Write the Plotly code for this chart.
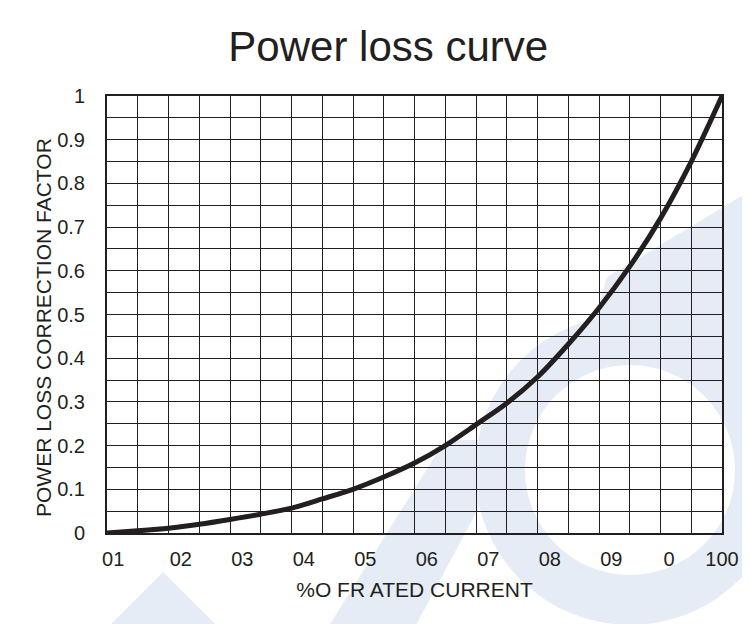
import plotly.graph_objects as go

# % of rated current vs power loss correction factor
current = [0, 5, 10, 15, 20, 25, 30, 35, 40, 45, 50,
           55, 60, 65, 70, 75, 80, 85, 90, 95, 100]
factor = [0, 0.005, 0.011, 0.02, 0.031, 0.043, 0.057, 0.078, 0.1, 0.128, 0.16,
          0.2, 0.248, 0.297, 0.357, 0.432, 0.515, 0.61, 0.72, 0.85, 1.0]

# printed tick labels (garbled as in the original artwork)
x_ticktext = ["01", "02", "03", "04", "05", "06", "07", "08", "09", "0", "100"]
x_tickpos = [1, 12, 22, 32, 42, 52, 62, 72, 82, 91.4, 100]

INK = "#231f20"
WASH = "#e6ecf6"
FONT = "Liberation Sans, Arial, sans-serif"

# page body margin shifts the figure 8px; plot area given in screen pixels
OFF = 8
L, R, T, B = 107 - OFF, 722 - OFF, 96 - OFF, 533 - OFF


def px(x, y):
    return (x - OFF - L) / (R - L), (B - (y - OFF)) / (B - T)


def poly(points, color):
    pts = [px(a, b) for a, b in points]
    return dict(type="path", xref="paper", yref="paper", layer="below",
                path="M " + " L ".join(f"{a:.4f},{b:.4f}" for a, b in pts) + " Z",
                fillcolor=color, line=dict(width=0))


def disc(cx, cy, r, color):
    x0, y1 = px(cx - r, cy - r)
    x1, y0 = px(cx + r, cy + r)
    return dict(type="circle", xref="paper", yref="paper", layer="below",
                x0=x0, x1=x1, y0=y0, y1=y1, fillcolor=color, line=dict(width=0))


fig = go.Figure()
fig.add_trace(go.Scatter(
    x=current, y=factor, mode="lines",
    line=dict(color=INK, width=5, shape="spline", smoothing=0.8),
    hoverinfo="skip", showlegend=False))

# faint logo watermark behind the grid
shapes = [
    disc(630, 470, 155, WASH),
    poly([(590, 340), (607, 277), (760, 185), (760, 420), (700, 420)], WASH),
    disc(630, 470, 105, "white"),
    poly([(320, 640), (408, 640), (515, 440), (445, 440)], WASH),
    poly([(163, 572), (232, 641), (94, 641)], WASH),
]

yt_x, yt_y = px(43, 328)

fig.update_layout(
    width=750, height=624,
    margin=dict(l=L, r=750 - R, t=T, b=624 - B),
    paper_bgcolor="white", plot_bgcolor="rgba(0,0,0,0)",
    font=dict(family=FONT, color=INK, size=20),
    title=dict(text="Power loss curve", x=0.507, xanchor="center",
               y=0.939, yanchor="middle",
               font=dict(size=42, color=INK, family=FONT)),
    shapes=shapes,
    annotations=[dict(text="POWER LOSS CORRECTION FACTOR", textangle=-90,
                      xref="paper", yref="paper", x=yt_x, y=yt_y,
                      xanchor="center", yanchor="middle", showarrow=False,
                      font=dict(size=21, color=INK, family=FONT))],
)

fig.update_xaxes(
    range=[0, 100], tickvals=x_tickpos, ticktext=x_ticktext,
    showgrid=False, zeroline=False, ticks="", ticklabelstandoff=7,
    showline=True, mirror=True, linecolor=INK, linewidth=2, automargin=False,
    minor=dict(dtick=5, tick0=0, showgrid=True, gridcolor=INK, gridwidth=1.3),
    title=dict(text="%O FR ATED CURRENT", font=dict(size=21), standoff=13),
)
fig.update_yaxes(
    range=[0, 1], dtick=0.1, tick0=0,
    showgrid=True, gridcolor=INK, gridwidth=1.3, zeroline=False,
    ticks="", ticklabelstandoff=16, automargin=False,
    showline=True, mirror=True, linecolor=INK, linewidth=2,
    minor=dict(dtick=0.05, tick0=0, showgrid=True, gridcolor=INK, gridwidth=1.3),
)

fig.write_html("out.html")
